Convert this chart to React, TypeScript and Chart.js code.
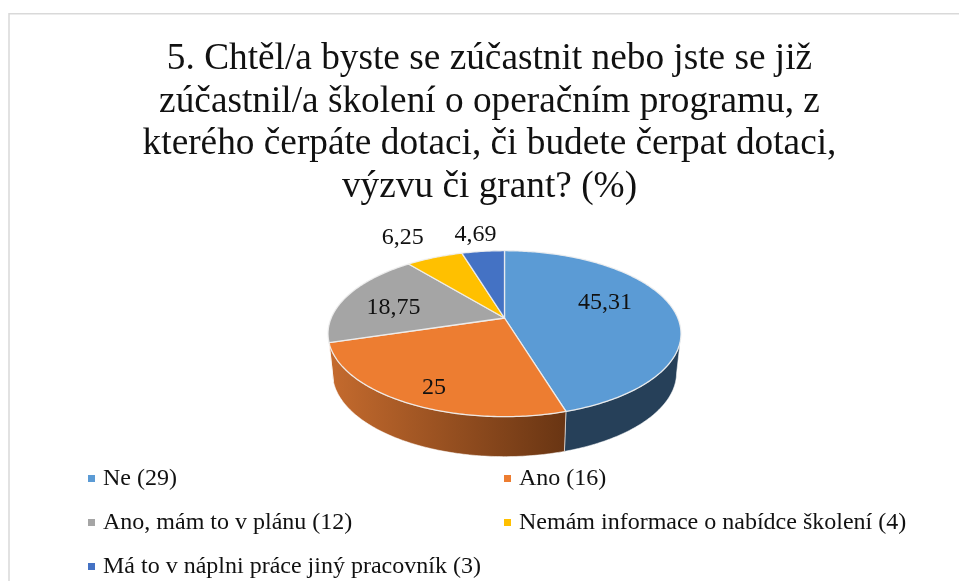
import React, { useEffect, useRef } from "react";
import { Chart, registerables } from "chart.js";

Chart.register(...registerables);

const titleLines = [
  "5. Chtěl/a byste se zúčastnit nebo jste se již",
  "zúčastnil/a školení o operačním programu, z",
  "kterého čerpáte dotaci, či budete čerpat dotaci,",
  "výzvu či grant? (%)",
];
const categories = [
  "Ne (29)",
  "Ano (16)",
  "Ano, mám to v plánu (12)",
  "Nemám informace o nabídce školení (4)",
  "Má to v náplni práce jiný pracovník (3)",
];
const shares = [45.31, 25, 18.75, 6.25, 4.69];
const shareLabels = ["45,31", "25", "18,75", "6,25", "4,69"];
const sliceColors = ["#5B9BD5", "#ED7D31", "#A5A5A5", "#FFC000", "#4472C4"];

const FONT = '"Liberation Serif", "Times New Roman", serif';
const APEX = { x: 504.5, y: 318 };
const PERSP = { a: 173.3, b: 80, k: 0.189 };
const LABEL_RADIAL = [0.58, 0.8, 0.65, 1.2, 1.2];
const LABEL_SHIFT = [[2.7, -8.3], [5, 5], [-7, 4], [-20, -10], [-4, -6]];

function project(theta: number, r = 1) {
  const u = Math.cos(theta) * r;
  const v = Math.sin(theta) * r;
  const w = 1 - PERSP.k * v;
  return { x: (PERSP.a * u) / w, y: (PERSP.b * v) / w };
}
function lower(p: { x: number; y: number }) {
  return { x: p.x * 0.975, y: 54.7 + ((p.y - 15.7) * 84) / 83 };
}
function sweep(start: number, end: number) {
  const pts: number[] = [];
  const n = Math.max(2, Math.ceil((end - start) / 0.015));
  for (let i = 0; i <= n; i++) pts.push(start + ((end - start) * i) / n);
  return pts;
}

const piePlugin = {
  id: "perspectivePie",
  beforeDraw(chart: any) {
    const { ctx, width, height } = chart;
    ctx.save();
    ctx.fillStyle = "#fff";
    ctx.fillRect(0, 0, width, height);
    ctx.strokeStyle = "#d9d9d9";
    ctx.lineWidth = 1.5;
    ctx.beginPath();
    ctx.moveTo(9, height);
    ctx.lineTo(9, 13.75);
    ctx.lineTo(width, 13.75);
    ctx.stroke();
    ctx.restore();
  },
  beforeDatasetsDraw(chart: any) {
    const { ctx } = chart;
    const arcs = chart.getDatasetMeta(0).data;
    ctx.save();
    ctx.translate(APEX.x, APEX.y);

    // side wall
    const vMin = 0.2;
    const tLo = Math.asin(vMin);
    const tHi = Math.PI - tLo;
    arcs.forEach((el: any, i: number) => {
      const norm = (t: number) => (t < -Math.PI / 2 ? t + 2 * Math.PI : t);
      const s = Math.max(norm(el.startAngle), tLo);
      const e = Math.min(norm(el.endAngle), tHi);
      if (e <= s) return;
      const ts = sweep(s, e);
      ctx.beginPath();
      ts.forEach((t, j) => {
        const p = project(t);
        if (j === 0) ctx.moveTo(p.x, p.y);
        else ctx.lineTo(p.x, p.y);
      });
      [...ts].reverse().forEach((t) => {
        const p = lower(project(t));
        ctx.lineTo(p.x, p.y);
      });
      ctx.closePath();
      if (i === 0) {
        ctx.fillStyle = "#264059";
      } else {
        const g = ctx.createLinearGradient(-176, 0, 61, 0);
        g.addColorStop(0, "#C56B2E");
        g.addColorStop(1, "#693513");
        ctx.fillStyle = g;
      }
      ctx.fill();
      ctx.strokeStyle = "rgba(255,255,255,0.55)";
      ctx.lineWidth = 1;
      ctx.stroke();
    });

    // top face
    arcs.forEach((el: any, i: number) => {
      ctx.beginPath();
      ctx.moveTo(0, 0);
      sweep(el.startAngle, el.endAngle).forEach((t) => {
        const p = project(t);
        ctx.lineTo(p.x, p.y);
      });
      ctx.closePath();
      ctx.fillStyle = sliceColors[i];
      ctx.fill();
      ctx.strokeStyle = "rgba(240,240,240,0.9)";
      ctx.lineWidth = 1.3;
      ctx.lineJoin = "round";
      ctx.stroke();
    });

    // value labels
    ctx.fillStyle = "#111";
    ctx.font = `24px ${FONT}`;
    ctx.textAlign = "center";
    ctx.textBaseline = "middle";
    arcs.forEach((el: any, i: number) => {
      const mid = (el.startAngle + el.endAngle) / 2;
      const q = project(mid, LABEL_RADIAL[i]);
      ctx.fillText(shareLabels[i], q.x + LABEL_SHIFT[i][0], q.y + LABEL_SHIFT[i][1]);
    });
    ctx.restore();
    return false;
  },
  afterDraw(chart: any) {
    const { ctx } = chart;
    const slots = [
      [88, 485],
      [504, 485],
      [88, 529],
      [504, 529],
      [88, 573],
    ];
    ctx.save();
    ctx.font = `24px ${FONT}`;
    ctx.textAlign = "left";
    ctx.textBaseline = "alphabetic";
    categories.forEach((c, i) => {
      const [x, y] = slots[i];
      ctx.fillStyle = sliceColors[i];
      ctx.fillRect(x, y - 10, 7, 7);
      ctx.fillStyle = "#111";
      ctx.fillText(c, x + 15, y);
    });
    ctx.restore();
  },
};

export default function App() {
  const ref = useRef<HTMLCanvasElement>(null);
  useEffect(() => {
    const chart = new Chart(ref.current as HTMLCanvasElement, {
      type: "pie",
      data: {
        labels: categories,
        datasets: [{ data: shares, backgroundColor: sliceColors, borderWidth: 0 }],
      },
      options: {
        animation: false,
        responsive: false,
        layout: { padding: { left: 20, top: 0, right: 0, bottom: 150 } },
        plugins: {
          legend: { display: false },
          tooltip: { enabled: false },
          title: {
            display: true,
            text: titleLines,
            color: "#111",
            font: { family: FONT, size: 37.3, weight: "normal", lineHeight: 42.5 / 37.3 },
            padding: { top: 38, bottom: 10 },
          },
        },
      },
      plugins: [piePlugin],
    } as any);
    return () => chart.destroy();
  }, []);
  return (
    <div style={{ position: "fixed", left: 0, top: 0, width: 959, height: 581, overflow: "hidden", background: "#fff" }}>
      <canvas ref={ref} width={959} height={581} style={{ display: "block" }} />
    </div>
  );
}
